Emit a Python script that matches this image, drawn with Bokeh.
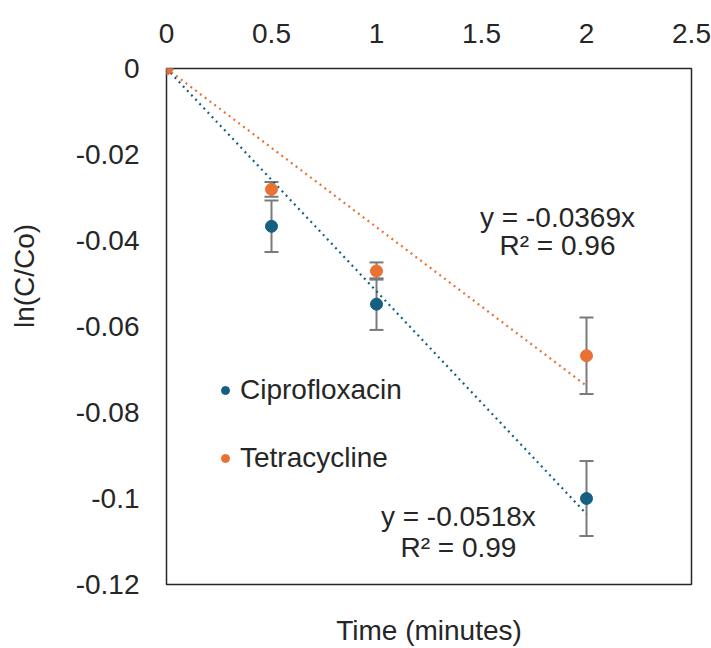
from bokeh.plotting import figure
from bokeh.models import (ColumnDataSource, Whisker, TeeHead, Label, Legend, LegendItem,
                          LinearAxis, FixedTicker, Range1d)
from bokeh.embed import file_html
from bokeh.resources import INLINE

# ---- data ----
times = [0, 0.5, 1, 2]
cipro = [0.0, -0.0367, -0.0548, -0.1000]
cipro_err = [0.0, 0.0060, 0.0060, 0.0087]
tetra = [0.0, -0.0281, -0.0471, -0.0668]
tetra_err = [0.0, 0.0017, 0.0020, 0.0089]
slope_cipro = -0.0518
slope_tetra = -0.0369
r2_cipro = 0.99
r2_tetra = 0.96
x_ticks = [0, 0.5, 1, 1.5, 2, 2.5]
x_tick_labels = ["0", "0.5", "1", "1.5", "2", "2.5"]
y_ticks = [0, -0.02, -0.04, -0.06, -0.08, -0.1, -0.12]
y_tick_labels = ["0", "-0.02", "-0.04", "-0.06", "-0.08", "-0.1", "-0.12"]
trend_x = [0, 2]

BLUE = "#156082"
ORANGE = "#E97132"
TEXT = "#262626"
FONT = "Liberation Sans"
FS = "28px"

p = figure(width=711, height=648, output_backend="svg", toolbar_location=None,
           x_range=Range1d(0, 2.5), y_range=Range1d(-0.12, 0),
           x_axis_location="above", min_border_left=166, min_border_right=20,
           min_border_top=68, min_border_bottom=63)
p.background_fill_color = "white"
p.border_fill_color = "white"
p.outline_line_color = "#262626"
p.outline_line_width = 1.5
p.xgrid.visible = False
p.ygrid.visible = False

for ax, ticks, labels in [(p.xaxis[0], x_ticks, x_tick_labels), (p.yaxis[0], y_ticks, y_tick_labels)]:
    ax.ticker = FixedTicker(ticks=ticks)
    ax.major_label_overrides = {t: l for t, l in zip(ticks, labels)}
    ax.axis_line_color = None
    ax.major_tick_line_color = None
    ax.minor_tick_line_color = None
    ax.major_tick_in = 0
    ax.major_tick_out = 0
    ax.major_label_text_font = FONT
    ax.major_label_text_font_size = FS
    ax.major_label_text_color = TEXT
p.xaxis[0].major_label_standoff = 26
p.yaxis[0].major_label_standoff = 27

yax = p.yaxis[0]
yax.axis_label = "\u00a0" * 13 + "ln(C/Co)"
yax.axis_label_text_font = FONT
yax.axis_label_text_font_size = FS
yax.axis_label_text_font_style = "normal"
yax.axis_label_text_color = TEXT
yax.axis_label_standoff = 33

bottom = LinearAxis(ticker=FixedTicker(ticks=[]), axis_label="Time (minutes)",
                    axis_line_color=None, major_tick_line_color=None, minor_tick_line_color=None,
                    axis_label_text_font=FONT, axis_label_text_font_size=FS,
                    axis_label_text_font_style="normal", axis_label_text_color=TEXT,
                    axis_label_standoff=30)
p.add_layout(bottom, "below")

# trendlines
p.line(trend_x, [slope_cipro * t for t in trend_x], line_color=BLUE, line_width=2.2, line_dash="2 4")
p.line(trend_x, [slope_tetra * t for t in trend_x], line_color=ORANGE, line_width=2.2, line_dash="2 4")

# error bars
for vals, errs in [(cipro, cipro_err), (tetra, tetra_err)]:
    src = ColumnDataSource(dict(x=times, upper=[v + e for v, e in zip(vals, errs)],
                                lower=[v - e for v, e in zip(vals, errs)]))
    w = Whisker(base="x", upper="upper", lower="lower", source=src,
                line_color="#7a7a7a", line_width=2,
                upper_head=TeeHead(size=14, line_color="#7a7a7a", line_width=2),
                lower_head=TeeHead(size=14, line_color="#7a7a7a", line_width=2))
    p.add_layout(w)

r_c = p.scatter(times, cipro, size=12, color=BLUE)
r_t = p.scatter(times, tetra, size=12, color=ORANGE)

legend = Legend(items=[LegendItem(label="Ciprofloxacin", renderers=[r_c]),
                       LegendItem(label="Tetracycline", renderers=[r_t])],
                location=(49, 110), border_line_color=None, background_fill_alpha=0,
                label_text_font=FONT, label_text_font_size=FS, label_text_color=TEXT,
                glyph_width=20, glyph_height=20, label_height=28, spacing=36,
                padding=0, margin=0, label_standoff=5)
p.add_layout(legend)

def add_label(x, y, text):
    p.add_layout(Label(x=x, y=y, text=text, text_align="center", text_baseline="middle",
                       text_font=FONT, text_font_size=FS, text_color=TEXT))

add_label(1.862, -0.0346, "y = %sx" % slope_tetra)
add_label(1.862, -0.0411, "R² = %.2f" % r2_tetra)
add_label(1.390, -0.1042, "y = %sx" % slope_cipro)
add_label(1.390, -0.1114, "R² = %.2f" % r2_cipro)

open("out.html", "w").write(file_html(p, INLINE))
